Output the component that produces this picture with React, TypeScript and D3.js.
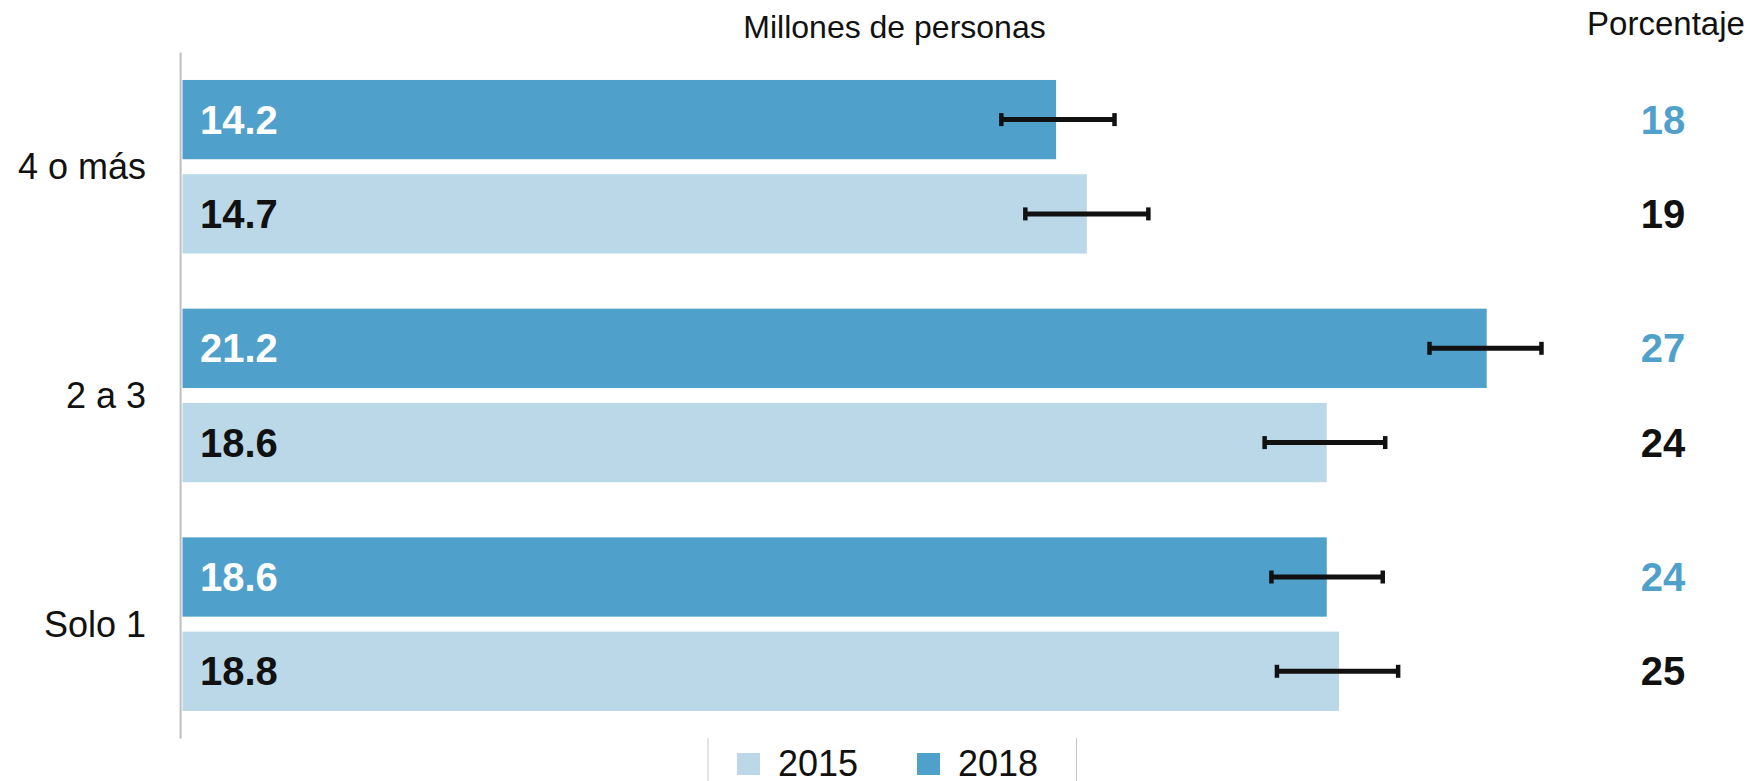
import React from "react";
import * as d3 from "d3";

const categories = ["4 o más", "2 a 3", "Solo 1"];
const years = ["2018", "2015"];
const values2018 = [14.2, 21.2, 18.6];
const values2015 = [14.7, 18.6, 18.8];
const errLow2018 = [13.31, 20.27, 17.7];
const errHigh2018 = [15.15, 22.09, 19.51];
const errLow2015 = [13.7, 17.59, 17.79];
const errHigh2015 = [15.7, 19.55, 19.76];
const pct2018 = [18, 27, 24];
const pct2015 = [19, 24, 25];
const legendYears = ["2015", "2018"];

const W = 1748;
const H = 781;
const C2018 = "#4FA0CB";
const C2015 = "#BAD8E8";
const FONT = "'Liberation Sans', Arial, sans-serif";

export default function App() {
  const x = d3.scaleLinear().domain([0, 25]).range([182.5, 182.5 + 25 * 61.52]);
  const y = d3
    .scaleBand<string>()
    .domain(categories)
    .range([52.4, 738.5])
    .paddingInner(0.241)
    .paddingOuter(0.1205);
  const yi = d3
    .scaleBand<string>()
    .domain(years)
    .range([0, y.bandwidth()])
    .paddingInner(0.159)
    .paddingOuter(0);

  const rows = categories.flatMap((c, i) => [
    { cat: c, year: "2018", v: values2018[i], lo: errLow2018[i], hi: errHigh2018[i], pct: pct2018[i] },
    { cat: c, year: "2015", v: values2015[i], lo: errLow2015[i], hi: errHigh2015[i], pct: pct2015[i] },
  ]);

  const legendColor = (yr: string) => (yr === "2018" ? C2018 : C2015);
  const legendX = [737, 917];

  return (
    <svg
      width={W}
      height={H}
      style={{ position: "absolute", left: 0, top: 0, background: "#fff" }}
      fontFamily={FONT}
    >
      <text x={894.5} y={38} fontSize={32} textAnchor="middle" fill="#111">
        Millones de personas
      </text>
      <text x={1666} y={35} fontSize={33} textAnchor="middle" fill="#111">
        Porcentaje
      </text>

      {/* axis line */}
      <line x1={180.6} x2={180.6} y1={y.range()[0]} y2={y.range()[1]} stroke="#BFBFBF" strokeWidth={2} />

      {categories.map((c) => (
        <text
          key={c}
          x={146}
          y={(y(c) ?? 0) + y.bandwidth() / 2}
          fontSize={36}
          textAnchor="end"
          dominantBaseline="central"
          fill="#111"
        >
          {c}
        </text>
      ))}

      {rows.map((r) => {
        const by = (y(r.cat) ?? 0) + (yi(r.year) ?? 0);
        const bh = yi.bandwidth();
        const cy = by + bh / 2;
        const is18 = r.year === "2018";
        return (
          <g key={r.cat + r.year}>
            <rect x={x(0)} y={by} width={x(r.v) - x(0)} height={bh} fill={is18 ? C2018 : C2015} />
            <text
              x={200}
              y={cy}
              fontSize={40}
              fontWeight="bold"
              dominantBaseline="central"
              fill={is18 ? "#FFFFFF" : "#111"}
            >
              {r.v.toFixed(1)}
            </text>
            <line x1={x(r.lo)} x2={x(r.hi)} y1={cy} y2={cy} stroke="#111" strokeWidth={5} />
            <line x1={x(r.lo)} x2={x(r.lo)} y1={cy - 6.5} y2={cy + 6.5} stroke="#111" strokeWidth={4.5} />
            <line x1={x(r.hi)} x2={x(r.hi)} y1={cy - 6.5} y2={cy + 6.5} stroke="#111" strokeWidth={4.5} />
            <text
              x={1663}
              y={cy}
              fontSize={40}
              fontWeight="bold"
              textAnchor="middle"
              dominantBaseline="central"
              fill={is18 ? C2018 : "#111"}
            >
              {r.pct}
            </text>
          </g>
        );
      })}

      {/* legend */}
      <line x1={708} x2={708} y1={738} y2={H} stroke="#C8C8C8" strokeWidth={1} />
      <line x1={1076.5} x2={1076.5} y1={738} y2={H} stroke="#C8C8C8" strokeWidth={1} />
      {legendYears.map((yr, i) => (
        <g key={yr}>
          <rect x={legendX[i]} y={753} width={23} height={22} fill={legendColor(yr)} />
          <text x={legendX[i] + 41} y={776} fontSize={36} fill="#111">
            {yr}
          </text>
        </g>
      ))}
    </svg>
  );
}
